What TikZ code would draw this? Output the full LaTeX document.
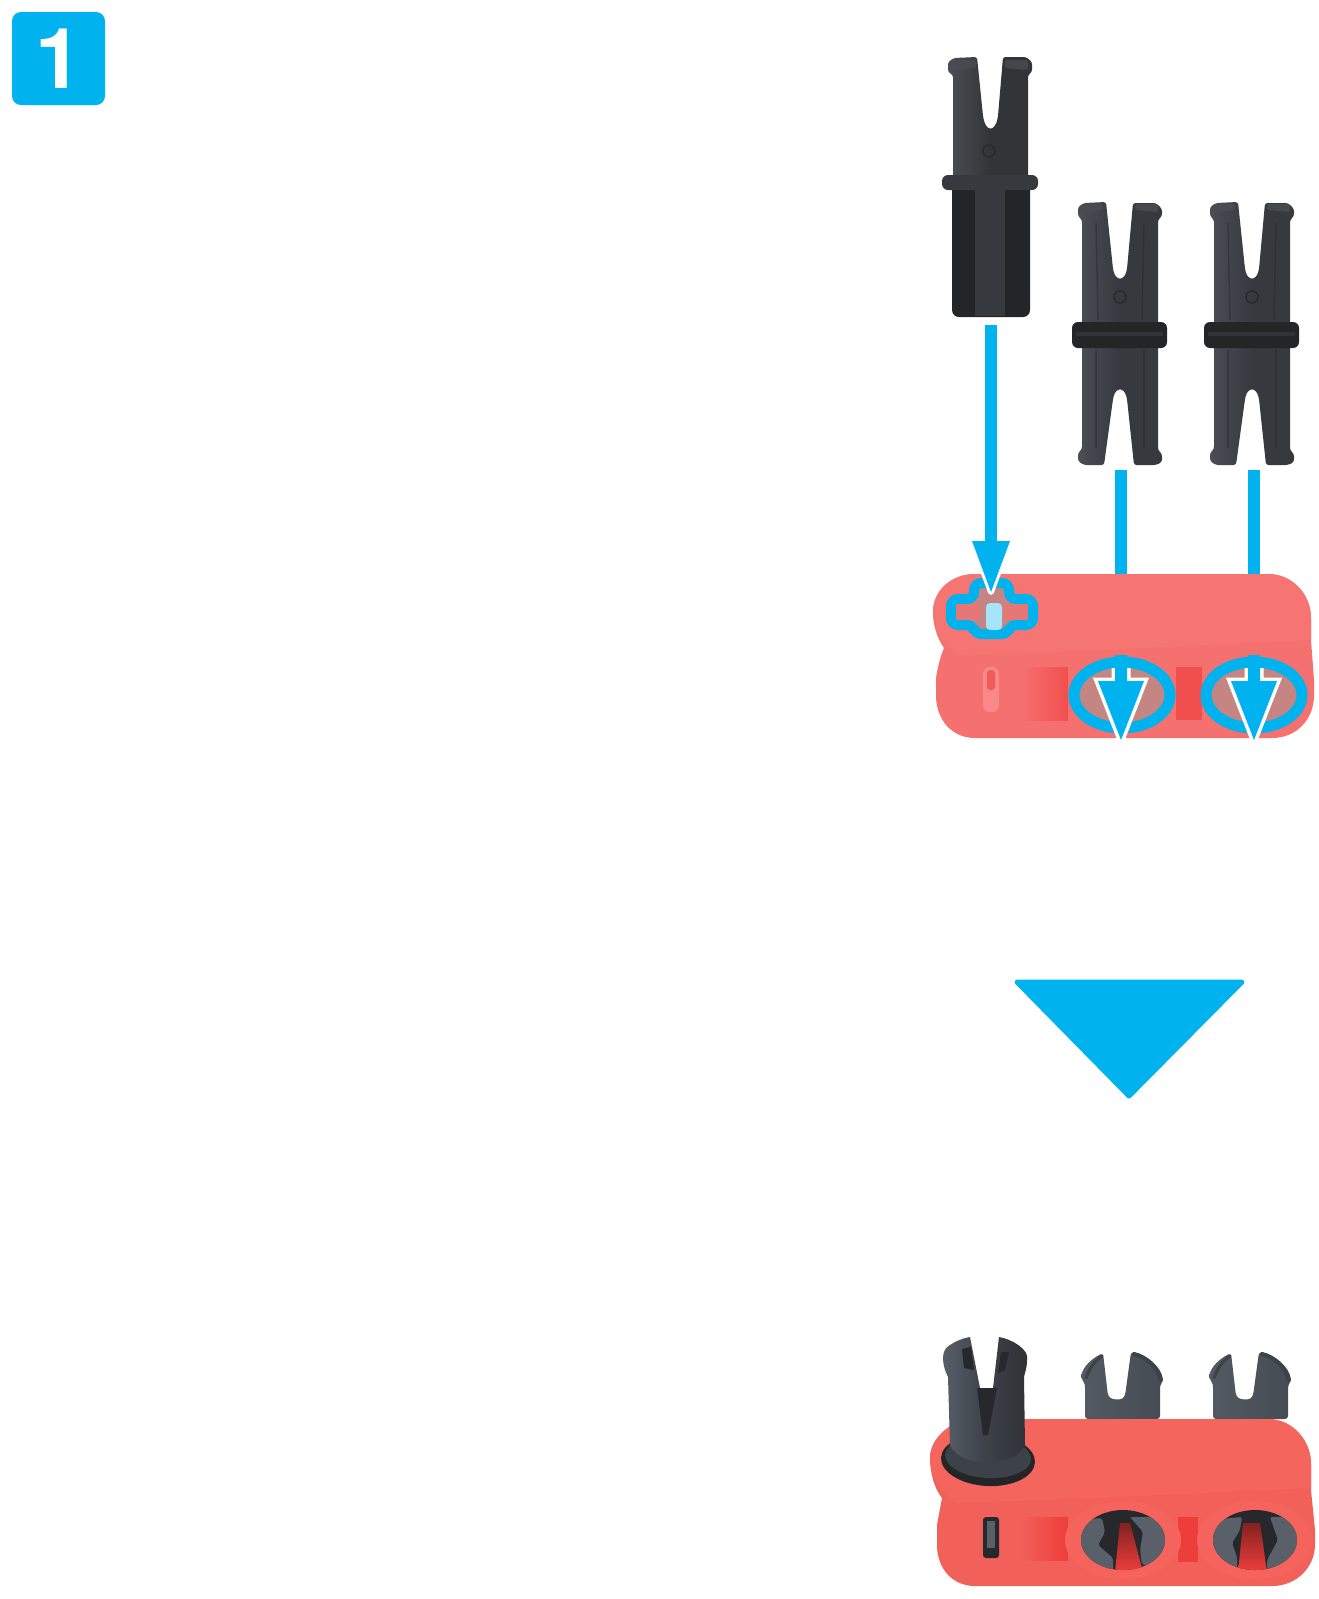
\documentclass[tikz,border=0pt]{standalone}
\usepackage{fontspec}
\setmainfont{TeX Gyre Heros}
\definecolor{stepblue}{HTML}{00B2EE}
\definecolor{pinA}{HTML}{333437}
\definecolor{pinB}{HTML}{363A3F}
\definecolor{pinHi}{HTML}{4A4E54}
\definecolor{pinDark}{HTML}{242527}
\definecolor{washRed}{HTML}{F67573}
\definecolor{washFront}{HTML}{F57170}
\definecolor{washDeep}{HTML}{F14F4E}
\definecolor{washHole}{HTML}{C48583}
\definecolor{solidRed}{HTML}{F2605A}
\definecolor{solidTop}{HTML}{F4655E}
\definecolor{solidDeep}{HTML}{EE3E3B}
\definecolor{solidRim}{HTML}{F4645C}
\definecolor{grayPin}{HTML}{59606A}
\definecolor{grayPinB}{HTML}{3D4249}
\definecolor{darkHole}{HTML}{26282C}
\tikzset{
  bluebar/.style={draw=stepblue,line width=12pt},
  ring/.style={draw=stepblue,line width=11pt,fill=washHole},
  whitetrim/.style={draw=white,line width=7pt,miter limit=20},
  bluefill/.style={fill=stepblue},
  pinshade/.style={left color=pinHi,right color=pinB,middle color=pinB},
  wedge/.style={top color=solidDeep!55!black,bottom color=solidDeep},
}
\newcommand{\doublepin}[2]{%
\begin{scope}[shift={(#1,#2)}]
  \path[pinshade,rounded corners=2.5pt]
    (-42,13)--(-42,4)--(-36,0)--(-14,-1)--(-7,66)
    .. controls (-4,78) and (4,78) .. (7,66)
    --(13,0)--(36,0)--(42,6)--(42,13)--(38,17)--(38,247)--(42,251)--(42,259)--(36,262)--(14,262)
    --(7,196) .. controls (4,184) and (-4,184) .. (-7,196)
    --(-16,262)--(-36,262)--(-42,258)--(-42,250)--(-38,246)--(-38,17)--cycle;
  \fill[pinHi,opacity=.8,rounded corners=2pt] (-38,1)--(-17,1)--(-17,7)--(-38,9)--cycle;
  \fill[pinHi,opacity=.8,rounded corners=2pt] (15,1)--(38,1)--(38,9)--(15,7)--cycle;
  \fill[pinDark,rounded corners=6pt] (-48,119) rectangle (47,145);
  \fill[pinHi,opacity=.35] (-44,129) rectangle (43,133);
  \draw[pinDark,opacity=.45,line width=1.5pt] (-24,20)--(-22,117) (24,20)--(22,117);
  \draw[pinDark,opacity=.45,line width=1.5pt] (-24,147)--(-24,245) (24,147)--(24,245);
  \draw[pinDark,opacity=.8,line width=1.5pt] (0,94) circle (6);
\end{scope}}
\newcommand{\washarrow}[1]{%
\begin{scope}[shift={(#1,0)}]
  \begin{scope}
    \clip (-70,640) rectangle (70,741);
    \draw[whitetrim] (-6,668)--(-6,681)--(-23,681)--(0,740)--(23,681)--(6,681)--(6,668);
    \fill[bluefill] (-6,655)--(-6,681)--(-23,681)--(0,740)--(23,681)--(6,681)--(6,655)--cycle;
  \end{scope}
\end{scope}}
\newcommand{\washring}[1]{%
  \draw[ring] (#1,695) ellipse [x radius=48,y radius=33];}
\newcommand{\backpin}[1]{%
\begin{scope}[shift={(#1,0)}]
  \path[left color=grayPin!80!grayPinB,right color=grayPinB!70!grayPin,rounded corners=3pt]
    (-38,1419)--(-38,1384)--(-42,1378)
    .. controls (-40,1366) and (-30,1358) .. (-20,1353)
    --(-15,1396) .. controls (-10,1400) and (-2,1400) .. (2,1396)
    --(8,1352) .. controls (22,1354) and (38,1366) .. (40,1381)--(37,1385)--(37,1419)--cycle;
  \draw[grayPinB,line width=3pt,line cap=round] (-37,1378) .. controls (-33,1367) and (-28,1361) .. (-21,1356);
  \draw[grayPinB,line width=4pt,line cap=round] (11,1354) .. controls (24,1357) and (35,1368) .. (38,1380);
\end{scope}}
\begin{document}
\begin{tikzpicture}[x=1pt,y=-1pt]
\useasboundingbox (0,0) rectangle (1318,1599);
\fill[white] (0,0) rectangle (1318,1599);
% badge
\node[fill=stepblue,rounded corners=9pt,minimum size=93pt,inner sep=0pt,text=white,font=\fontsize{84}{84}\selectfont\bfseries] (badge) at (58.5,58.5) {1};
% first pin
\path[left color=pinHi,right color=pinA,middle color=pinA,rounded corners=2.5pt]
  (948,72)--(948,62)--(954,58)--(977,57)--(983,116)
  .. controls (986,132) and (995,132) .. (998,116)
  --(1003,57)--(1026,57)--(1032,62)--(1032,72)--(1028,75)--(1028,180)--(953,180)--(953,75)--cycle;
\fill[pinHi,opacity=.7,rounded corners=2pt] (954,60)--(976,60)--(976,68)--(954,70)--cycle;
\fill[pinHi,opacity=.7,rounded corners=2pt] (1005,60)--(1028,60)--(1028,70)--(1005,68)--cycle;
\draw[pinDark,opacity=.8,line width=1.5pt] (989,151) circle (6);
\fill[pinDark,rounded corners=7pt] (952,182) rectangle (1030,317);
\fill[pinB] (975,188) rectangle (1005,316);
\fill[pinB,rounded corners=6pt] (942,175) rectangle (1038,190);
% connectors
\coordinate (a1s) at (991,325);
\coordinate (a1e) at (991,545);
\coordinate (a2s) at (1121,470);
\coordinate (a2e) at (1121,574);
\coordinate (a3s) at (1254,470);
\coordinate (a3e) at (1254,574);
% double pins
\doublepin{1120}{203}
\doublepin{1252}{203}
\draw[bluebar] (a1s)--(a1e);
\draw[bluebar] (a2s)--(a2e);
\draw[bluebar] (a3s)--(a3e);
% washed beam
\path[fill=washFront] (975,574)--(1268,574)
  .. controls (1292,574) and (1311,594) .. (1311,618)
  --(1311,640)--(1314,680)--(1314,695) .. controls (1314,720) and (1296,738) .. (1272,738)
  --(975,738) .. controls (952,738) and (936,720) .. (936,695)
  --(936,678) .. controls (938,665) and (941,655) .. (944,648) .. controls (937,638) and (933,625) .. (933,612)
  .. controls (933,590) and (952,574) .. (975,574)--cycle;
\path[fill=washRed] (975,574)--(1268,574)
  .. controls (1292,574) and (1311,594) .. (1311,618)
  --(1311,640)--(1100,650)--(960,655) .. controls (942,645) and (933,628) .. (933,612)
  .. controls (933,590) and (952,574) .. (975,574)--cycle;
\path[left color=washFront,right color=washDeep] (1020,667) rectangle (1068,720);
\fill[washDeep] (1176,667) rectangle (1202,720);
\fill[washRed!85!white,rounded corners=7pt] (983,667) rectangle (999,712);
\fill[washDeep!70!washRed,rounded corners=3pt] (987,670) rectangle (995,690);
\washring{1122}
\washring{1254}
% cross hole
\draw[draw=stepblue,line width=10pt,fill=washHole,rounded corners=7pt]
  (974,583)--(1009,583)--(1009,599)--(1033,599)--(1033,625)--(1009,625)--(1009,634)--(974,634)--(974,625)--(951,625)--(951,599)--(974,599)--cycle;
\fill[washFront!70!washHole] (956,604) rectangle (1028,620);
\fill[washHole] (980,590) rectangle (1003,628);
\fill[stepblue!35!white,rounded corners=4pt] (986,603) rectangle (1002,630);
\draw[whitetrim,line width=6pt,line join=round] (972,541)--(991,592)--(1010,541);
\fill[bluefill] (972,541)--(1010,541)--(991,592)--cycle;
\washarrow{1121}
\washarrow{1254}
% big triangle
\fill[stepblue,draw=stepblue,line width=5pt,line join=round] (1017,982)--(1242,982)--(1129,1096)--cycle;
% assembled: back pins
\backpin{1123}
\backpin{1251}
% assembled beam
\path[fill=solidRed] (975,1419)--(1268,1419)
  .. controls (1292,1419) and (1311,1440) .. (1311,1464)
  --(1311,1490)--(1315,1530)--(1315,1544) .. controls (1315,1568) and (1296,1586) .. (1272,1586)
  --(975,1586) .. controls (952,1586) and (937,1568) .. (937,1545)
  --(937,1525) -- (942,1498) .. controls (934,1488) and (930,1472) .. (930,1458)
  .. controls (930,1438) and (952,1419) .. (975,1419)--cycle;
\path[fill=solidTop] (975,1419)--(1268,1419)
  .. controls (1292,1419) and (1311,1440) .. (1311,1464)
  --(1311,1488)--(1100,1498)--(955,1503) .. controls (938,1490) and (930,1472) .. (930,1458)
  .. controls (930,1438) and (952,1419) .. (975,1419)--cycle;
\path[left color=solidRed,right color=solidDeep] (1020,1517) rectangle (1068,1560);
\fill[solidDeep] (1178,1517) rectangle (1198,1562);
% holes
\fill[solidRim] (1123,1540) ellipse [x radius=58,y radius=39];
\fill[solidRim] (1255,1540) ellipse [x radius=58,y radius=39];
\begin{scope}
  \clip (1123,1540) ellipse [x radius=42,y radius=30];
  \fill[darkHole] (1070,1500) rectangle (1175,1580);
  \fill[grayPin,rounded corners=2pt] (1102,1518)--(1105,1532)--(1098,1545)--(1113,1558)--(1113,1572)--(1078,1572)--(1078,1520)--cycle;
  \fill[grayPin,rounded corners=2pt] (1130,1517)--(1143,1532)--(1140,1550)--(1142,1565)--(1170,1565)--(1170,1517)--cycle;
  \path[wedge] (1120,1523)--(1130,1523)--(1143,1572)--(1115,1572)--cycle;
\end{scope}
\begin{scope}
  \clip (1255,1540) ellipse [x radius=42,y radius=30];
  \fill[darkHole] (1205,1500) rectangle (1305,1580);
  \fill[grayPin,rounded corners=2pt] (1242,1517)--(1240,1530)--(1232,1543)--(1237,1557)--(1237,1572)--(1210,1572)--(1210,1520)--cycle;
  \fill[grayPin,rounded corners=2pt] (1270,1517)--(1278,1540)--(1267,1560)--(1267,1572)--(1300,1572)--(1300,1517)--cycle;
  \path[wedge] (1243,1523)--(1260,1523)--(1267,1572)--(1238,1572)--cycle;
\end{scope}
\fill[darkHole,rounded corners=3pt] (983,1517) rectangle (999,1558);
\fill[grayPin] (987,1521) rectangle (995,1548);
% front pin
\fill[pinDark,rotate around={-3:(988,1460)}] (988,1460) ellipse [x radius=47,y radius=26];
\fill[grayPinB,rotate around={-3:(988,1457)}] (988,1457) ellipse [x radius=43,y radius=21];
\path[left color=grayPin,right color=pinB!85!black,middle color=grayPinB]
  (948,1377) .. controls (942,1365) and (940,1350) .. (950,1345) .. controls (956,1341) and (963,1338) .. (970,1337)
  --(980,1388)--(993,1388)--(999,1337) .. controls (1012,1339) and (1030,1350) .. (1027,1360)
  .. controls (1027,1368) and (1025,1372) .. (1024,1377)
  --(1025,1445) .. controls (1015,1468) and (960,1468) .. (950,1445)--cycle;
\fill[darkHole] (962,1349)--(971,1347)--(974,1370)--(964,1368)--cycle;
\fill[darkHole] (1001,1352)--(1009,1352)--(1005,1370)--(998,1373)--cycle;
\fill[darkHole] (977,1388)--(997,1388)--(988,1435)--(983,1435)--cycle;
\end{tikzpicture}
\end{document}
